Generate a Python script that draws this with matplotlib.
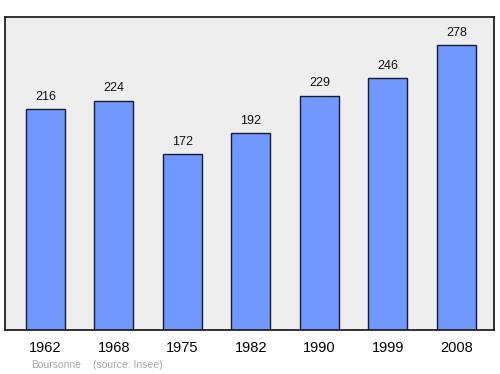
import matplotlib
matplotlib.use("Agg")
import matplotlib.pyplot as plt

years = ["1962", "1968", "1975", "1982", "1990", "1999", "2008"]
population = [216, 224, 172, 192, 229, 246, 278]
commune = "Boursonne"
source = "(source: Insee)"

plt.rcParams['font.family'] = ['Liberation Sans', 'DejaVu Sans']

fig = plt.figure(figsize=(5.0, 3.74), dpi=100)
ax = fig.add_axes([0.01, 0.1176, 0.978, 0.837])
ax.set_facecolor('#eeeeee')

x = list(range(len(years)))
ax.bar(x, population, width=0.57, color='#7098ff', edgecolor='#1a1a2e', linewidth=1.0, zorder=2)
for xi, v in zip(x, population):
    ax.text(xi, v + 12, str(v), ha='center', va='center', fontsize=9, color='#111111')

ax.set_xlim(-0.59, 6.55)
ax.set_ylim(0, 305.8)
ax.set_xticks(x)
ax.set_xticklabels(years, fontsize=10.5)
ax.tick_params(axis='x', length=0, pad=8)
ax.set_yticks([])
for s in ax.spines.values():
    s.set_color('#222222')
    s.set_linewidth(1.3)

fig.text(31 / 500, 1 - 365 / 374, commune, fontsize=7.5, color='#aaaaaa', va='center', ha='left')
fig.text(93 / 500, 1 - 365 / 374, source, fontsize=7.5, color='#aaaaaa', va='center', ha='left')

fig.savefig("out.png", dpi=100)
